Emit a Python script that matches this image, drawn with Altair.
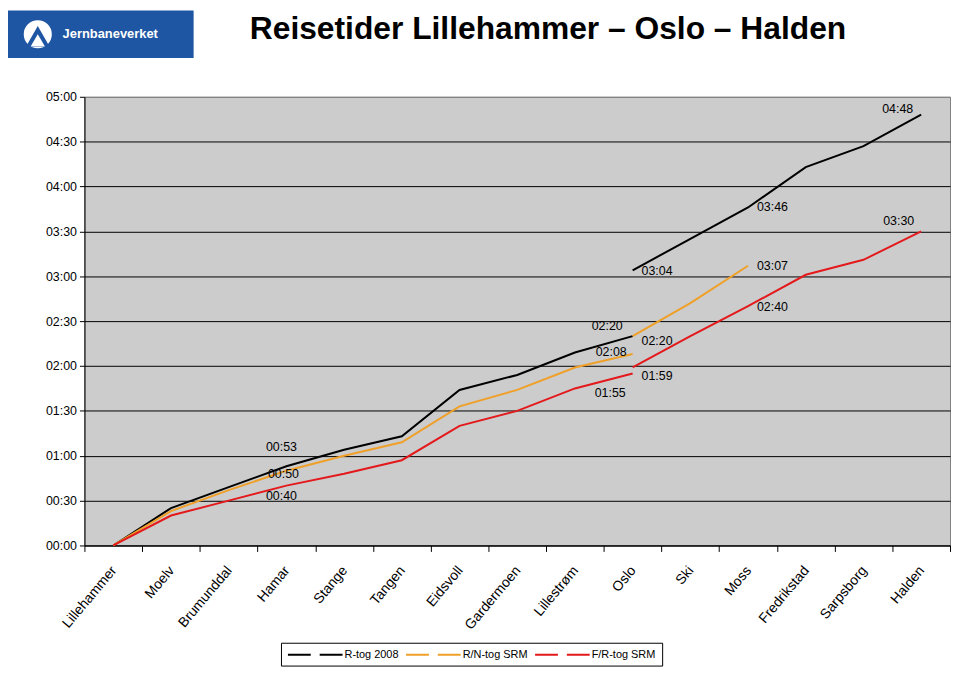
import altair as alt
import pandas as pd

# ---------------- data ----------------
stations = ["Lillehammer", "Moelv", "Brumunddal", "Hamar", "Stange", "Tangen",
            "Eidsvoll", "Gardermoen", "Lillestrøm", "Oslo", "Ski", "Moss",
            "Fredrikstad", "Sarpsborg", "Halden"]

series_names = ["R-tog 2008", "R/N-tog SRM", "F/R-tog SRM"]
series_colors = ["#000000", "#F0A028", "#E3191C"]

# minutes from Lillehammer, northern part (Lillehammer..Oslo)
r_north = [0, 25, 39, 53, 64, 73, 104, 114, 129, 140]
rn_north = [0, 23, 37, 50, 60, 69, 93, 104, 119, 128]
fr_north = [0, 20, 30, 40, 48, 57, 80, 90, 105, 115]
# southern part (Oslo..), starting again at Oslo
r_south = [184, 205, 226, 253, 267, 288]
rn_south = [140, 162, 187]
fr_south = [119, 140, 160, 181, 191, 210]

y_ticks = list(range(0, 301, 30))

title_text = "Reisetider Lillehammer – Oslo – Halden"
logo_text = "Jernbaneverket"


def hhmm(m):
    return f"{m // 60:02d}:{m % 60:02d}"


rows = []


def add(series, seg, start, values):
    for i, v in enumerate(values):
        rows.append({"series": series, "seg": seg, "segment": series + "|" + seg,
                     "station": stations[start + i], "minutes": v, "label": hhmm(v)})


oslo = stations.index("Oslo")
add(series_names[0], "nord", 0, r_north)
add(series_names[0], "sor", oslo, r_south)
add(series_names[1], "nord", 0, rn_north)
add(series_names[1], "sor", oslo, rn_south)
add(series_names[2], "nord", 0, fr_north)
add(series_names[2], "sor", oslo, fr_south)
df = pd.DataFrame(rows)

# ---------------- encodings ----------------
x_enc = alt.X(
    "station:N", sort=stations,
    scale=alt.Scale(type="band", domain=stations, paddingInner=0, paddingOuter=0),
    bandPosition=0.5,
    axis=alt.Axis(title=None, tickBand="extent", grid=False, labelAngle=-50,
                  labelAlign="right", labelBaseline="top", labelPadding=12,
                  labelOffset=-5, tickSize=6, tickColor="#000000",
                  domainColor="#000000", labelFontSize=14, labelColor="#000000",
                  labelFont="Liberation Sans"),
)

y_enc = alt.Y(
    "minutes:Q",
    scale=alt.Scale(domain=[0, 300], nice=False, zero=True),
    axis=alt.Axis(title=None, values=y_ticks,
                  labelExpr="(floor(datum.value/60) < 10 ? '0' : '') + floor(datum.value/60) + ':' + (datum.value % 60 < 10 ? '0' : '') + (datum.value % 60)",
                  grid=True,
                  gridColor={"condition": {"test": "datum.value >= 300", "value": "#7F7F7F"},
                             "value": "#000000"},
                  gridWidth=1, tickSize=5, tickColor="#000000", domainColor="#000000",
                  labelPadding=3, labelFontSize=12.5, labelColor="#000000",
                  labelFont="Liberation Sans"),
)

# legend symbol: two dashes side by side, drawn in the unit square coordinates
legend_symbol = "M-1,0H3.6M5.4,0H10"

color_enc = alt.Color(
    "series:N",
    scale=alt.Scale(domain=series_names, range=series_colors),
    legend=alt.Legend(title=None, orient="none", legendX=198, legendY=550,
                      direction="horizontal", columns=3, strokeColor="#000000",
                      fillColor="#FFFFFF", padding=6, symbolType=legend_symbol,
                      symbolSize=100, symbolStrokeWidth=2,
                      columnPadding=3, labelOffset=46, labelFontSize=11,
                      labelColor="#000000", labelFont="Liberation Sans"),
)

base = alt.Chart(df)

lines = base.mark_line(strokeWidth=2).encode(
    x=x_enc, y=y_enc, color=color_enc, detail="segment:N"
)

# data labels: (series index, segment, station, align, dx, dy)
label_specs = [
    (0, "nord", "Hamar", "center", -5, -19),
    (1, "nord", "Hamar", "center", -3, 3),
    (2, "nord", "Hamar", "center", -5, 10),
    (0, "nord", "Oslo", "right", -10, -10),
    (1, "nord", "Oslo", "right", -6, -2),
    (2, "nord", "Oslo", "right", -7, 20),
    (0, "sor", "Oslo", "left", 9, 1),
    (1, "sor", "Oslo", "left", 9, 5),
    (2, "sor", "Oslo", "left", 9, 9),
    (0, "sor", "Moss", "left", 9, 0),
    (1, "sor", "Moss", "left", 9, 0),
    (2, "sor", "Moss", "left", 9, 1),
    (0, "sor", "Halden", "right", -8, -6),
    (2, "sor", "Halden", "right", -7, -10),
]

label_layers = []
for si, seg, st, al, dx, dy in label_specs:
    cond = (f"datum.series == '{series_names[si]}' && datum.seg == '{seg}' "
            f"&& datum.station == '{st}'")
    label_layers.append(
        base.transform_filter(cond).mark_text(
            align=al, baseline="middle", dx=dx, dy=dy, fontSize=12.5,
            color="#000000", font="Liberation Sans"
        ).encode(x=x_enc, y=y_enc, text="label:N")
    )

# ---------------- decorations (logo + title) ----------------
one = pd.DataFrame({"t": [logo_text]})
logo_rect = alt.Chart(one).mark_rect(color="#1F56A3").encode(
    x=alt.value(-77), x2=alt.value(110), y=alt.value(-87), y2=alt.value(-39)
)
logo_circle = alt.Chart(one).mark_point(
    filled=True, shape="circle", size=800, color="#FFFFFF", opacity=1
).encode(x=alt.value(-47), y=alt.value(-63))
logo_tri = alt.Chart(one).mark_point(
    filled=True, shape="triangle-up", size=560, color="#1F56A3", opacity=1
).encode(x=alt.value(-47), y=alt.value(-61))
logo_tri2 = alt.Chart(one).mark_point(
    filled=True, shape="triangle-up", size=200, color="#FFFFFF", opacity=1
).encode(x=alt.value(-47), y=alt.value(-57))
logo_label = alt.Chart(one).mark_text(
    align="left", baseline="alphabetic", fontSize=13, fontWeight="bold",
    color="#FFFFFF", font="Liberation Sans"
).encode(x=alt.value(-22), y=alt.value(-59), text="t:N")

title_df = pd.DataFrame({"t": [title_text]})
title = alt.Chart(title_df).mark_text(
    align="center", baseline="alphabetic", fontSize=32, fontWeight="bold",
    color="#000000", font="Liberation Sans"
).encode(x=alt.value(467), y=alt.value(-58), text="t:N")

chart = alt.layer(
    lines, *label_layers, logo_rect, logo_circle, logo_tri, logo_tri2, logo_label, title
).properties(
    width=872, height=452,
    padding={"left": 77, "top": 87, "right": 2, "bottom": 121},
    autosize=alt.AutoSizeParams(type="none"),
    view=alt.ViewBackground(fill="#CCCCCC", stroke="#7F7F7F", strokeWidth=1),
).configure(font="Liberation Sans")

chart.save("out.html", embed_options={"renderer": "svg", "actions": False})
